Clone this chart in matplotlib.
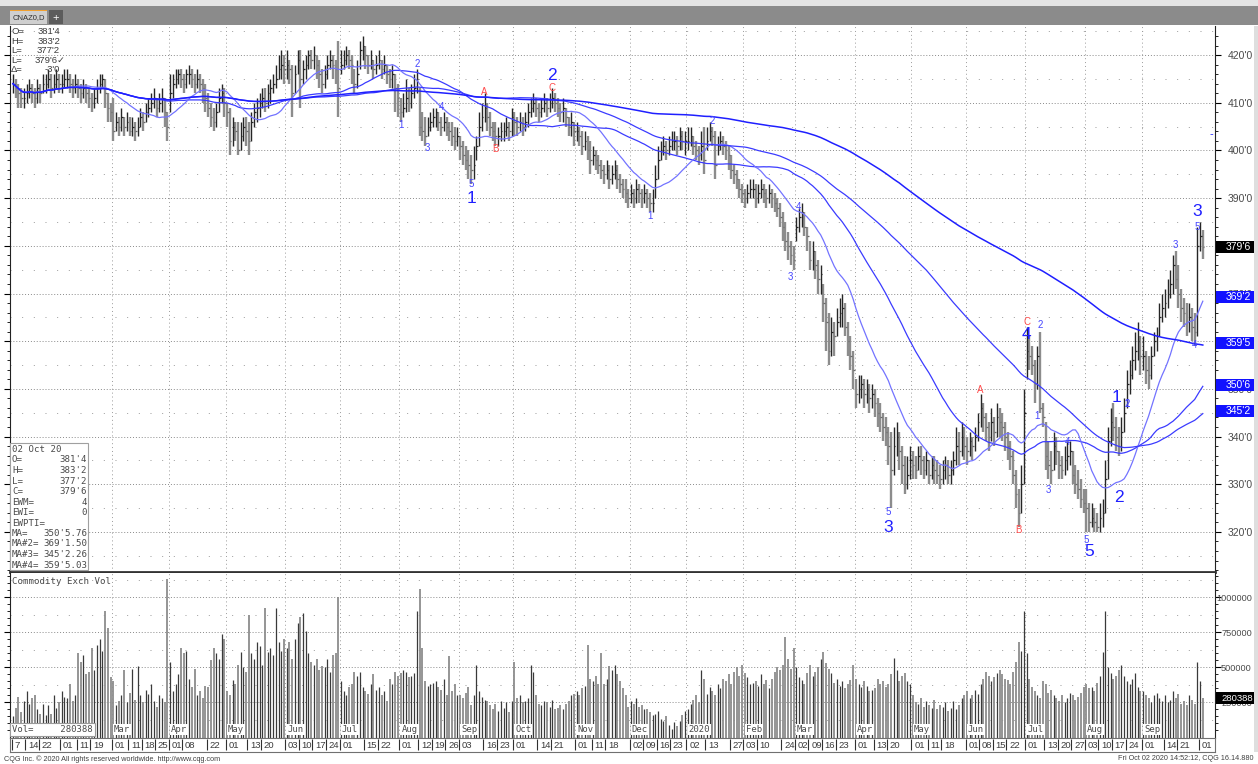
import numpy as np
import pandas as pd
import matplotlib
matplotlib.use('Agg')
import matplotlib.pyplot as plt
import matplotlib.transforms as mtransforms
from matplotlib.patches import Rectangle

# CBOT holidays inside the window
holidays = ['2019-01-21', '2019-02-18', '2019-04-19', '2019-05-27', '2019-07-04',
            '2019-09-02', '2019-11-28', '2019-12-25', '2020-01-01', '2020-01-20',
            '2020-02-17', '2020-04-10', '2020-05-25', '2020-07-03', '2020-09-07']

# daily closes (cents), one line per month, Jan 2019 .. Oct 2020
closes = [
    414, 413, 412, 411, 411, 412, 413, 412, 411, 413, 412, 414, 414, 415, 413, 414, 415, 414,
    414, 415, 415, 414, 413, 414, 413, 412, 413, 412, 411, 410, 411, 413, 414, 415, 412, 409, 408,
    404, 406, 405, 407, 405, 406, 404, 405, 404, 405, 407, 406, 408, 409, 410, 411, 409, 410, 411, 408, 405,
    412, 414, 415, 416, 415, 414, 416, 416, 415, 414, 415, 414, 413, 411, 409, 407, 406, 408, 411, 412, 410,
    408, 402, 405, 404, 400, 403, 405, 404, 402, 406, 408, 409, 410, 411, 410, 412, 413, 414, 415, 417, 418, 417,
    418, 417, 412, 416, 419, 415, 417, 418, 420, 419, 420, 418, 416, 414, 416, 418, 419, 418, 417, 413,
    418, 419, 420, 419, 418, 414, 416, 421, 422, 420, 418, 419, 417, 418, 419, 417, 418, 416, 415, 416, 413, 411,
    408, 409, 411, 410, 412, 413, 415, 405, 404, 403, 405, 406, 407, 408, 406, 405, 406, 405, 404, 403, 402, 403,
    401, 399, 398, 397, 396, 397, 401, 405, 407, 409, 407, 405, 404, 403, 403, 404, 404, 405, 404, 407,
    406, 405, 406, 405, 406, 408, 409, 410, 409, 408, 409, 410, 409, 410, 411, 410, 409, 408, 409, 407, 405, 406, 404,
    404, 403, 401, 402, 400, 398, 399, 398, 397, 396, 395, 396, 394, 395, 396, 394, 393, 392, 391, 390,
    391, 390, 392, 391, 390, 391, 390, 389, 389, 394, 398, 400, 401, 400, 401, 402, 402, 401, 403, 402, 402,
    402, 403, 401, 400, 399, 401, 398, 402, 404, 403, 397, 401, 402, 401, 400, 399, 396, 395, 394, 392, 391,
    390, 391, 392, 392, 390, 391, 392, 391, 390, 391, 390, 389, 388, 386, 384, 381, 380, 378, 377,
    384, 386, 387, 384, 382, 377, 379, 376, 373, 374, 368, 364, 358, 362, 361, 364, 366, 367, 363, 360, 357, 354,
    349, 350, 351, 349, 350, 348, 349, 347, 345, 344, 342, 341, 338, 333, 338, 340, 337, 334, 330, 332, 335,
    334, 333, 336, 335, 333, 335, 332, 334, 333, 332, 331, 333, 334, 332, 333, 335, 338, 337, 340, 338,
    337, 339, 338, 340, 343, 346, 344, 342, 340, 343, 341, 344, 343, 342, 340, 338, 336, 332, 328, 324, 330, 345,
    358, 357, 355, 351, 357, 346, 344, 336, 334, 333, 338, 337, 334, 333, 335, 336, 337, 332, 330, 329, 327, 326,
    325, 322, 323, 322, 321, 323, 324, 331, 339, 343, 342, 340, 338, 341, 345, 351, 353, 356, 358, 360, 357,
    357, 354, 353, 357, 360, 361, 365, 367, 368, 370, 372, 376, 373, 370, 367, 366, 364, 365, 363, 362, 380,
    382, 379.75,
]

highs = [
    416, 415, 414, 413, 413, 414, 415, 414, 413, 415, 414, 416, 416, 417, 416, 416, 417, 416,
    416, 417, 417, 416, 415, 416, 415, 414, 415, 414, 413, 412, 413, 415, 416, 416, 415, 412, 410,
    411, 408, 407, 409, 407, 408, 407, 407, 406, 407, 409, 408, 410, 411, 412, 413, 411, 412, 413, 411, 408,
    416, 416, 417, 417, 417, 416, 417, 418, 417, 416, 417, 416, 415, 414, 412, 410, 409, 410, 413, 414, 413,
    410, 409, 407, 406, 406, 406, 407, 407, 406, 408, 410, 411, 412, 413, 413, 414, 415, 416, 418, 420, 421, 420,
    421, 419, 418, 418, 421, 421, 419, 420, 421, 421, 422, 420, 419, 417, 418, 420, 421, 420, 419, 423,
    421, 421, 422, 421, 420, 417, 419, 423, 424, 422, 420, 421, 419, 420, 421, 419, 420, 418, 417, 418, 416, 414,
    411, 412, 415, 413, 414, 416, 417, 413, 408, 407, 407, 408, 409, 409, 408, 407, 408, 407, 406, 406, 405, 405,
    403, 402, 401, 400, 399, 401, 403, 408, 410, 412, 410, 408, 406, 406, 405, 406, 406, 407, 406, 409,
    408, 407, 408, 407, 408, 410, 411, 412, 411, 410, 411, 412, 411, 412, 413, 412, 411, 410, 411, 409, 407, 408, 406,
    406, 405, 404, 404, 403, 402, 401, 400, 399, 398, 397, 398, 397, 397, 398, 397, 395, 394, 394, 392,
    393, 392, 394, 393, 392, 393, 392, 391, 392, 397, 401, 402, 403, 402, 403, 404, 404, 403, 405, 404, 404,
    405, 405, 403, 402, 401, 404, 405, 405, 406, 405, 404, 403, 404, 403, 402, 401, 399, 397, 396, 394, 393,
    392, 393, 394, 394, 393, 393, 394, 393, 392, 393, 392, 391, 390, 389, 387, 385, 383, 381, 380,
    386, 388, 389, 387, 384, 381, 381, 379, 377, 376, 372, 369, 366, 365, 364, 367, 369, 370, 368, 364, 361, 358,
    352, 353, 353, 352, 352, 351, 351, 350, 348, 347, 345, 344, 342, 341, 342, 343, 341, 338, 336, 336, 338,
    337, 336, 338, 338, 336, 337, 335, 336, 336, 335, 334, 335, 336, 335, 335, 337, 342, 341, 343, 342,
    340, 341, 340, 342, 345, 349, 347, 345, 343, 346, 344, 347, 346, 345, 343, 341, 339, 337, 333, 329, 334, 350,
    363, 361, 359, 356, 359, 362, 347, 343, 339, 337, 341, 340, 337, 336, 338, 339, 339, 337, 334, 333, 331, 329,
    329, 326, 326, 325, 324, 326, 327, 335, 342, 346, 347, 344, 342, 344, 348, 354, 356, 359, 362, 364, 361,
    361, 358, 357, 359, 362, 363, 368, 370, 371, 373, 375, 378, 379, 376, 371, 369, 368, 368, 367, 366, 384,
    385, 383.25,
]

lows = [
    412, 411, 409, 409, 409, 410, 411, 410, 409, 410, 410, 412, 412, 413, 411, 412, 413, 412,
    412, 413, 413, 412, 411, 412, 411, 410, 411, 410, 409, 408, 409, 410, 412, 413, 409, 406, 406,
    402, 404, 403, 404, 403, 404, 403, 403, 402, 403, 405, 404, 406, 407, 408, 409, 407, 408, 408, 405, 402,
    408, 411, 413, 414, 413, 412, 413, 414, 413, 412, 413, 412, 410, 408, 407, 405, 404, 405, 408, 410, 407,
    405, 399, 401, 402, 399, 400, 402, 401, 399, 402, 405, 406, 407, 409, 408, 409, 410, 412, 413, 415, 415, 414,
    415, 414, 407, 412, 416, 409, 414, 415, 417, 417, 417, 415, 413, 412, 413, 415, 417, 415, 414, 407,
    416, 417, 418, 417, 414, 412, 413, 417, 419, 417, 416, 417, 415, 416, 417, 415, 416, 414, 413, 413, 408, 407,
    406, 407, 408, 408, 409, 411, 412, 403, 402, 401, 403, 404, 405, 405, 404, 403, 404, 403, 402, 401, 400, 401,
    398, 397, 396, 394, 393, 394, 398, 401, 404, 406, 404, 403, 402, 401, 401, 402, 402, 403, 402, 403,
    403, 403, 404, 403, 404, 405, 407, 408, 407, 406, 407, 408, 407, 408, 409, 408, 407, 406, 406, 405, 403, 403, 401,
    402, 401, 399, 400, 398, 395, 397, 396, 395, 394, 393, 394, 392, 393, 394, 392, 391, 390, 389, 388,
    389, 388, 389, 389, 388, 389, 388, 387, 387, 390, 394, 398, 399, 398, 399, 400, 400, 399, 400, 400, 399,
    400, 401, 399, 398, 397, 398, 395, 400, 402, 401, 394, 399, 400, 399, 398, 396, 394, 393, 392, 390, 389,
    388, 389, 390, 390, 388, 389, 390, 389, 388, 389, 388, 387, 386, 384, 381, 379, 377, 376, 375,
    381, 383, 384, 382, 379, 375, 375, 373, 370, 370, 364, 358, 355, 357, 357, 361, 363, 363, 361, 357, 354, 350,
    346, 347, 348, 346, 347, 345, 346, 344, 342, 341, 339, 338, 334, 325, 332, 336, 333, 330, 328, 329, 331,
    331, 331, 333, 332, 331, 332, 330, 331, 330, 330, 329, 330, 331, 330, 330, 332, 334, 334, 336, 335,
    334, 336, 335, 337, 339, 342, 341, 339, 337, 339, 338, 340, 340, 339, 337, 335, 333, 330, 325, 321, 324, 330,
    352, 354, 353, 347, 350, 345, 342, 333, 331, 330, 333, 334, 331, 331, 332, 333, 334, 330, 328, 327, 325, 324,
    320, 320, 321, 320, 320, 320, 321, 324, 331, 338, 339, 337, 336, 337, 341, 346, 349, 352, 354, 356, 353,
    354, 351, 350, 352, 357, 358, 361, 364, 365, 367, 369, 370, 371, 367, 364, 363, 361, 362, 360, 359, 361,
    379, 377.25,
]

# exchange volume, thousands of contracts
volume_k = [
    150, 210, 290, 180, 260, 330, 240, 280, 300, 200, 170, 240, 160, 230, 170, 300, 210, 250,
    330, 290, 280, 380, 260, 300, 600, 540, 590, 450, 470, 640, 480, 660, 700, 620, 900, 780, 430,
    400, 230, 260, 300, 480, 250, 320, 490, 270, 510, 300, 250, 340, 310, 380, 260, 220, 300, 280, 250, 1130,
    540, 330, 380, 450, 640, 600, 620, 420, 360, 490, 300, 330, 280, 370, 360, 550, 640, 600, 560, 740, 700,
    330, 300, 410, 380, 520, 610, 500, 470, 870, 600, 560, 680, 650, 520, 920, 610, 640, 590, 920, 680, 620, 700,
    640, 680, 560, 700, 820, 860, 890, 760, 600, 540, 520, 560, 480, 510, 500, 560, 470, 590, 600, 1000,
    400, 330, 300, 360, 380, 470, 440, 470, 360, 330, 310, 380, 450, 340, 360, 300, 330, 260, 420, 380, 470, 440,
    460, 480, 470, 430, 440, 460, 900, 1060, 640, 400, 370, 380, 390, 400, 360, 340, 420, 300, 580, 330, 380, 300,
    300, 280, 320, 360, 230, 300, 520, 330, 290, 270, 260, 230, 200, 240, 190, 260, 210, 250, 180, 260,
    540, 280, 300, 250, 260, 280, 520, 470, 300, 240, 230, 260, 250, 220, 270, 200, 210, 230, 200, 240, 260, 300, 310,
    330, 300, 350, 370, 660, 420, 400, 440, 380, 600, 380, 420, 510, 480, 520, 450, 400, 350, 300, 220,
    260, 240, 280, 220, 230, 200, 200, 180, 160, 170, 190, 130, 120, 150, 90, 60, 110, 80, 120, 160, 190,
    200, 240, 270, 300, 250, 480, 420, 310, 360, 330, 300, 380, 350, 420, 400, 450, 380, 470, 500, 440, 520,
    460, 430, 380, 390, 400, 370, 450, 380, 410, 350, 420, 470, 500, 480, 520, 720, 560, 490, 640,
    500, 430, 410, 380, 460, 520, 440, 470, 500, 560, 610, 530, 490, 460, 390, 420, 370, 400, 350, 380, 410, 520,
    420, 380, 360, 400, 370, 330, 340, 350, 420, 380, 400, 360, 380, 450, 570, 480, 400, 440, 460, 400, 380,
    300, 250, 240, 280, 220, 260, 230, 210, 270, 200, 230, 220, 250, 190, 210, 260, 200, 230, 280, 300,
    330, 280, 300, 340, 310, 380, 420, 470, 440, 400, 430, 460, 480, 450, 420, 410, 380, 470, 540, 680, 620, 900,
    600, 420, 360, 330, 300, 280, 400, 380, 320, 340, 300, 280, 260, 300, 250, 280, 320, 300, 270, 290, 320, 360,
    380, 350, 360, 330, 390, 440, 610, 900, 500, 460, 420, 440, 480, 520, 440, 400, 380, 420, 460, 360, 330,
    330, 300, 280, 250, 300, 320, 280, 260, 300, 250, 270, 330, 280, 310, 240, 260, 230, 300, 270, 240, 540,
    400, 280.388,
]

# moving average periods and the values CQG prints for the last bar
ma_periods = [50, 20, 100, 200]
ma_names = ['MA=', 'MA#2=', 'MA#3=', 'MA#4=']
ma_last_text = ["350'5.76", "369'1.50", "345'2.26", "359'5.03"]
ma_last_value = [350.72, 369.19, 345.28, 359.63]
ma_box_text = ["350'6", "369'2", "345'2", "359'5"]

# elliott wave labels: date, price, text, big
wave_dates = ['2019-08-01', '2019-08-09', '2019-08-15', '2019-08-22', '2019-09-09', '2019-09-09',
              '2019-09-16', '2019-09-20', '2019-10-21', '2019-10-21',
              '2019-12-11', '2020-01-15', '2020-02-27', '2020-03-03', '2020-04-20', '2020-04-20',
              '2020-06-08', '2020-06-26', '2020-07-01', '2020-07-01',
              '2020-07-08', '2020-07-09', '2020-07-14', '2020-07-23', '2020-08-03', '2020-08-04',
              '2020-08-18', '2020-08-19', '2020-08-24', '2020-08-24',
              '2020-09-18', '2020-09-29', '2020-09-30', '2020-09-30']
wave_prices = [405.3, 418.1, 400.5, 409.1, 393.0, 390.0,
               412.2, 400.3, 413.1, 415.8,
               386.2, 406.2, 373.5, 388.2, 324.2, 321.0,
               349.8, 320.4, 364.0, 361.5,
               344.3, 363.4, 328.8, 338.9, 318.3, 315.8,
               348.1, 327.3, 346.8, 346.8,
               380.2, 359.2, 384.0, 387.1]
wave_texts = ['1', '2', '3', '4', '5', '1',
              'A', 'B', 'C', '2',
              '1', '2', '3', '4', '5', '3',
              'A', 'B', 'C', '4',
              '1', '2', '3', '4', '5', '5',
              '1', '2', '1', '2',
              '3', '4', '5', '3']
wave_red = ['A', 'B', 'C']
wave_big = [False, False, False, False, False, True,
            False, False, False, True,
            False, False, False, False, False, True,
            False, False, False, True,
            False, False, False, False, False, True,
            True, True, False, False,
            False, False, False, True]

# bottom date strip
label_dates = ['2019-01-07', '2019-01-14', '2019-01-22', '2019-02-01', '2019-02-11', '2019-02-19',
               '2019-03-01', '2019-03-11', '2019-03-18', '2019-03-25', '2019-04-01', '2019-04-08',
               '2019-04-22', '2019-05-01', '2019-05-13', '2019-05-20', '2019-06-03', '2019-06-10',
               '2019-06-17', '2019-06-24', '2019-07-01', '2019-07-15', '2019-07-22', '2019-08-01',
               '2019-08-12', '2019-08-19', '2019-08-26', '2019-09-03', '2019-09-16', '2019-09-23',
               '2019-10-01', '2019-10-14', '2019-10-21', '2019-11-01', '2019-11-11', '2019-11-18',
               '2019-12-02', '2019-12-09', '2019-12-16', '2019-12-23', '2020-01-02', '2020-01-13',
               '2020-01-27', '2020-02-03', '2020-02-10', '2020-02-24', '2020-03-02', '2020-03-09',
               '2020-03-16', '2020-03-23', '2020-04-01', '2020-04-13', '2020-04-20', '2020-05-01',
               '2020-05-11', '2020-05-18', '2020-06-01', '2020-06-08', '2020-06-15', '2020-06-22',
               '2020-07-01', '2020-07-13', '2020-07-20', '2020-07-27', '2020-08-03', '2020-08-10',
               '2020-08-17', '2020-08-24', '2020-09-01', '2020-09-14', '2020-09-21', '2020-10-01']
month_names = ['Mar', 'Apr', 'May', 'Jun', 'Jul', 'Aug', 'Sep', 'Oct', 'Nov', 'Dec',
               '2020', 'Feb', 'Mar', 'Apr', 'May', 'Jun', 'Jul', 'Aug', 'Sep']
month_starts = ['2019-03-01', '2019-04-01', '2019-05-01', '2019-06-03', '2019-07-01', '2019-08-01',
                '2019-09-03', '2019-10-01', '2019-11-01', '2019-12-02', '2020-01-02', '2020-02-03',
                '2020-03-02', '2020-04-01', '2020-05-01', '2020-06-01', '2020-07-01', '2020-08-03',
                '2020-09-01']

dates = pd.bdate_range('2019-01-07', '2020-10-02', freq='C', holidays=holidays)
n = len(dates)
assert n == len(closes) == len(highs) == len(lows) == len(volume_k)
pos = {d: i for i, d in enumerate(dates)}
idx = np.arange(n)
close_s = pd.Series(closes, dtype=float)
highs = np.array(highs, dtype=float)
lows = np.array(lows, dtype=float)
volume = np.array(volume_k, dtype=float) * 1000

up = np.r_[True, np.diff(close_s.values) >= 0]


def cqg(v):
    whole = int(np.floor(v))
    return f"{whole}'{int(round((v - whole) * 8))}"


W, H = 1258, 764


def fx(px):
    return px / W


def fy(py):
    return 1 - py / H


fig = plt.figure(figsize=(W / 100, H / 100), dpi=100)
fig.patch.set_facecolor('white')
plt.rcParams['font.family'] = ['Liberation Sans', 'DejaVu Sans']
mono = 'DejaVu Sans Mono'
txt_col = '#3c3c3c'

# window chrome on top
fig.patches.append(Rectangle((0, fy(25)), 1, 25 / H, transform=fig.transFigure, fc='#8b8b8b', ec='none'))
fig.patches.append(Rectangle((0, fy(6)), 1, 6 / H, transform=fig.transFigure, fc='#e4e4e4', ec='none'))
fig.patches.append(Rectangle((fx(10), fy(24)), 37 / W, 14 / H, transform=fig.transFigure, fc='#cfcfcf', ec='none'))
fig.patches.append(Rectangle((fx(10), fy(11)), 37 / W, 1.5 / H, transform=fig.transFigure, fc='#f0a030', ec='none'))
fig.patches.append(Rectangle((fx(49), fy(24)), 14 / W, 14 / H, transform=fig.transFigure, fc='#5c5c5c', ec='none'))
fig.text(fx(28.5), fy(17.5), 'CNAZ0,D', fontsize=5.5, color='#303030', ha='center', va='center')
fig.text(fx(56), fy(17.5), '+', fontsize=8, color='white', ha='center', va='center')
fig.patches.append(Rectangle((fx(1254), fy(752)), 4 / W, 726 / H, transform=fig.transFigure, fc='#dedede', ec='none'))

x_lo, x_hi = -1.1, 443.5
month_idx = [pos[pd.Timestamp(d)] for d in month_starts]

# ---------------- price panel ----------------
ax = fig.add_axes([fx(10), fy(572), fx(1215) - fx(10), fy(26) - fy(572)])
ax.set_xlim(x_lo, x_hi)
ax.set_ylim(311.6, 426.1)
ax.spines['top'].set_visible(False)
ax.spines['left'].set_color('#222222')
ax.spines['right'].set_color('#222222')
ax.spines['bottom'].set_color('#333333')
ax.spines['bottom'].set_linewidth(2)

for v in range(320, 426, 10):
    ax.axhline(v, color='#8a8a8a', lw=0.7, ls=(0, (1, 2)), zorder=0)
for v in range(315, 426, 10):
    ax.axhline(v, color='#9a9a9a', lw=0.7, ls=(0, (1, 11)), zorder=0)
for m in month_idx:
    ax.axvline(m - 0.5, color='#9a9a9a', lw=0.7, ls=(0, (1, 3)), zorder=0)

ax.vlines(idx[~up], lows[~up], highs[~up], colors='#8c8c8c', lw=1.7, zorder=2)
ax.vlines(idx[up], lows[up], highs[up], colors='#262626', lw=1.0, zorder=2)
ax.hlines(close_s.values, idx, idx + 0.6, colors=np.where(up, '#262626', '#6a6a6a'), lw=0.9, zorder=2)

ma_cols = ['#3b3bff', '#7373ff', '#3b3bff', '#1f1fff']
ma_lw = [0.9, 0.9, 0.9, 1.1]
for p, c, lw in zip(ma_periods, ma_cols, ma_lw):
    ma = close_s.rolling(p, min_periods=1).mean()
    ax.plot(idx, ma.values, color=c, lw=lw, zorder=3)

for d, pr, t, big in zip(wave_dates, wave_prices, wave_texts, wave_big):
    col = '#ff4c4c' if t in wave_red else ('#2020ff' if big else '#4646ff')
    ax.text(pos[pd.Timestamp(d)], pr, t, color=col, fontsize=12.5 if big else 7,
            ha='center', va='center', zorder=4)
ax.text(442.0, 403.5, '-', color='#2020ff', fontsize=8, ha='center', va='center', zorder=4)

ax.yaxis.tick_right()
ax.set_yticks(range(320, 421, 10))
ax.set_yticklabels([cqg(v) for v in range(320, 421, 10)])
ax.set_yticks(np.arange(312, 426, 2), minor=True)
ax.tick_params(axis='y', which='major', length=4, width=0.8, pad=5, labelsize=7.5, labelcolor='#4a4a4a',
               left=True, right=True)
ax.tick_params(axis='y', which='minor', length=2.5, width=0.6, left=True, right=True)
ax.set_xticks([])

# last value boxes on the price scale
blend = mtransforms.blended_transform_factory(ax.transAxes, ax.transData)
box_w = 39 / 1205
box_h = 12 / 4.77
boxes = [(closes[-1], cqg(closes[-1]), '#000000')] + \
        [(v, t, '#1212ff') for v, t in zip(ma_last_value, ma_box_text)]
for v, t, c in boxes:
    ax.add_patch(Rectangle((1.0005, v - box_h / 2), box_w, box_h, transform=blend, fc=c, ec='none',
                           clip_on=False, zorder=5))
    ax.text(1.0005 + box_w * 0.9, v, t, transform=blend, color='white', fontsize=7.5,
            ha='right', va='center', clip_on=False, zorder=6)

# quote in the top left corner
quote_lbl = ['O=', 'H=', 'L=', 'L=', '\u0394=']
quote_val = ["381'4", "383'2", "377'2", "379'6\u2713", "-3'0"]
for k, (l, v) in enumerate(zip(quote_lbl, quote_val)):
    yy = 31.5 + k * 9.6
    fig.text(fx(11), fy(yy), l, fontsize=6.8, color=txt_col, va='center', ha='left')
    fig.text(fx(60 if k != 3 else 66), fy(yy), v, fontsize=6.8, color=txt_col, va='center', ha='right')

# data window box
fig.patches.append(Rectangle((fx(10), fy(570)), 78 / W, 127 / H, transform=fig.transFigure,
                             fc='white', ec='#a0a0a0', lw=0.8, zorder=5))
box_lbl = ['02 Oct 20', 'O=', 'H=', 'L=', 'C=', 'EWM=', 'EWI=', 'EWPTI='] + ma_names
box_val = ['', "381'4", "383'2", "377'2", "379'6", '4', '0', ''] + ma_last_text
for k, (l, v) in enumerate(zip(box_lbl, box_val)):
    yy = 449.5 + k * 10.5
    fig.text(fx(12), fy(yy), l, fontsize=6.6, family=mono, color='#4a4a4a', va='center', ha='left', zorder=6)
    if v:
        fig.text(fx(87), fy(yy), v, fontsize=6.6, family=mono, color='#4a4a4a', va='center', ha='right', zorder=6)

# ---------------- volume panel ----------------
axv = fig.add_axes([fx(10), fy(737.5), fx(1215) - fx(10), fy(573) - fy(737.5)])
axv.set_xlim(x_lo, x_hi)
axv.set_ylim(0, 1.173e6)
axv.spines['top'].set_visible(False)
axv.spines['bottom'].set_visible(False)
axv.spines['left'].set_color('#222222')
axv.spines['right'].set_color('#222222')
for v in [250000, 500000, 750000, 1000000]:
    axv.axhline(v, color='#8a8a8a', lw=0.7, ls=(0, (1, 2)), zorder=0)
for v in [125000, 375000, 625000, 875000, 1125000]:
    axv.axhline(v, color='#9a9a9a', lw=0.7, ls=(0, (1, 11)), zorder=0)
for m in month_idx:
    axv.axvline(m - 0.5, color='#9a9a9a', lw=0.7, ls=(0, (1, 3)), zorder=0)
axv.vlines(idx[~up], 0, volume[~up], colors='#8c8c8c', lw=1.3, zorder=2)
axv.vlines(idx[up], 0, volume[up], colors='#3a3a3a', lw=0.9, zorder=2)
axv.yaxis.tick_right()
axv.set_yticks([250000, 500000, 750000, 1000000])
axv.set_yticklabels(['250000', '500000', '750000', '1000000'], ha='right')
axv.set_yticks(np.arange(50000, 1173000, 50000), minor=True)
axv.tick_params(axis='y', which='major', length=4, width=0.8, pad=22.5, labelsize=6.6, labelcolor='#4a4a4a',
                left=True, right=True)
axv.tick_params(axis='y', which='minor', length=2.5, width=0.6, left=True, right=True)
axv.set_xticks([])

vblend = mtransforms.blended_transform_factory(axv.transAxes, axv.transData)
vbox_h = 12 / 140.2e-6
axv.add_patch(Rectangle((1.0005, volume[-1] - vbox_h / 2), box_w, vbox_h, transform=vblend, fc='black',
                        ec='none', clip_on=False, zorder=5))
axv.text(1.0005 + box_w * 0.96, volume[-1], str(int(round(volume[-1]))), transform=vblend, color='white',
         fontsize=6.8, ha='right', va='center', clip_on=False, zorder=6)

axv.text(0.002, 0.975, 'Commodity Exch Vol', transform=axv.transAxes, fontsize=6.6, family=mono,
         color='#4a4a4a', ha='left', va='top')

mblend = mtransforms.blended_transform_factory(axv.transData, axv.transAxes)
for m, name in zip(month_idx, month_names):
    axv.text(m + 0.3, 0.048, name, transform=mblend, fontsize=6.4, family=mono, color='#4a4a4a',
             ha='left', va='center', zorder=4,
             bbox=dict(boxstyle='square,pad=0.12', fc='white', ec='none'))
axv.text(0.0015, 0.048, 'Vol=     280388', transform=axv.transAxes, fontsize=6.4, family=mono,
         color='#4a4a4a', ha='left', va='center', zorder=5,
         bbox=dict(boxstyle='square,pad=0.25', fc='white', ec='#9a9a9a', lw=0.8))

# ---------------- date strip ----------------
axd = fig.add_axes([fx(10), fy(752), fx(1215) - fx(10), fy(738) - fy(752)])
axd.set_xlim(x_lo, x_hi)
axd.set_ylim(0, 1)
axd.set_xticks([])
axd.set_yticks([])
for s in axd.spines.values():
    s.set_color('#707070')
    s.set_linewidth(0.8)
for d in label_dates:
    i = pos[pd.Timestamp(d)]
    axd.vlines(i - 0.5, 0.12, 0.9, color='#303030', lw=0.8)
    lab = str(pd.Timestamp(d).day) if d == label_dates[0] else f'{pd.Timestamp(d).day:02d}'
    axd.text(i + 0.5, 0.48, lab, fontsize=6.8, color='#3a3a3a', ha='left', va='center')

# footer
fig.text(fx(4), fy(759), 'CQG Inc. \u00a9 2020 All rights reserved worldwide. http://www.cqg.com',
         fontsize=5.2, color='#404040', ha='left', va='center')
fig.text(fx(1254), fy(759), 'Fri Oct 02 2020 14:52:12, CQG 16.14.880',
         fontsize=5.2, color='#404040', ha='right', va='center')

fig.savefig('out.png', dpi=100, facecolor='white')
